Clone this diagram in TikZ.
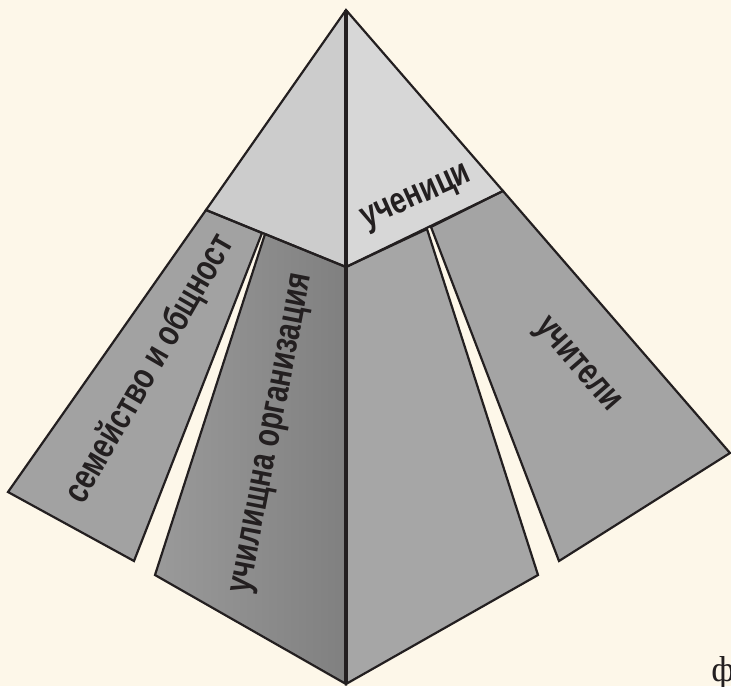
\documentclass[tikz,border=0pt]{standalone}
\usepackage{fontspec}
\newfontfamily\labelfont[FakeStretch=0.76]{Liberation Sans}
\newfontfamily\cornerfont{Liberation Serif}
\definecolor{bgcream}{RGB}{253,247,233}
\definecolor{topleft}{RGB}{204,204,204}
\definecolor{topright}{RGB}{215,215,215}
\definecolor{bandone}{RGB}{162,162,162}
\definecolor{bandtwoL}{RGB}{154,154,154}
\definecolor{bandtwoR}{RGB}{128,128,128}
\definecolor{bandthree}{RGB}{166,166,166}
\definecolor{bandfour}{RGB}{164,164,164}
\definecolor{inkdark}{RGB}{35,31,32}
\begin{document}
\begin{tikzpicture}[x=1pt,y=-1pt,
  edge/.style={draw=inkdark,line width=2.2pt,line join=miter},
  spine/.style={draw=inkdark,line width=3.4pt},
  lbl/.style={inner sep=0pt,text=inkdark,font=\labelfont\bfseries\fontsize{37}{37}\selectfont}]
\clip (0,0) rectangle (731,686);
\fill[bgcream] (0,0) rectangle (731,686);
% key points
\coordinate (A) at (346,10);
\coordinate (C) at (346,267);
\coordinate (B) at (346,684);
\coordinate (L) at (206,210);
\coordinate (R) at (503,191);
\coordinate (P1) at (262,233);
\coordinate (P2) at (265,234);
\coordinate (P3) at (427,229);
\coordinate (P4) at (431,227);
\coordinate (Q0) at (8,492);
\coordinate (Q1) at (134,561);
\coordinate (Q2) at (155,575);
\coordinate (Q3) at (538,575);
\coordinate (Q4) at (559,561);
\coordinate (Q5) at (730,453);
% top faces
\path[fill=topleft] (A) -- (L) -- (C) -- cycle;
\path[fill=topright] (A) -- (C) -- (R) -- cycle;
% bands
\path[edge,fill=bandone] (L) -- (P1) -- (Q1) -- (Q0) -- cycle;
\path[edge,left color=bandtwoL,right color=bandtwoR] (P2) -- (C) -- (B) -- (Q2) -- cycle;
\path[edge,fill=bandthree] (C) -- (P3) -- (Q3) -- (B) -- cycle;
\path[edge,fill=bandfour] (P4) -- (R) -- (Q5) -- (Q4) -- cycle;
% outline of top
\draw[edge] (L) -- (A) -- (R) -- (C) -- cycle;
\draw[spine] (A) -- (B);
% labels
\node[lbl,rotate=24] (students) at (417,199) {ученици};
\node[lbl,rotate=60] (family) at (150,369) {семейство и общност};
\node[lbl,rotate=79] (school) at (274,434) {училищна организация};
\node[lbl,rotate=-49] (teachers) at (576,366) {учители};
\node[anchor=base,inner sep=0pt,text=inkdark,font=\cornerfont\fontsize{36}{36}\selectfont] (corner) at (723,681) {ф};
\end{tikzpicture}
\end{document}
